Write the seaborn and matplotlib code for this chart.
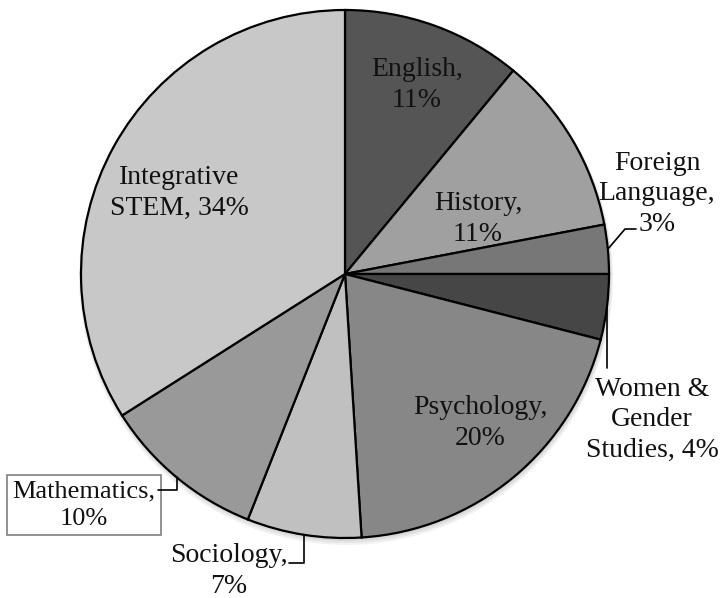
import numpy as np
import seaborn as sns
import matplotlib.pyplot as plt
from matplotlib.patches import Circle

# data
departments = ['English', 'History', 'Foreign Language', 'Women & Gender Studies',
               'Psychology', 'Sociology', 'Mathematics', 'Integrative STEM']
shares = [11, 11, 3, 4, 20, 7, 10, 34]
colors = ['#555555', '#a0a0a0', '#777777', '#464646', '#878787', '#c0c0c0', '#999999', '#c8c8c8']

sns.set_style('white')
plt.rcParams['font.family'] = ['Liberation Serif', 'DejaVu Serif']

W, H = 720, 598
fig = plt.figure(figsize=(W / 100, H / 100), dpi=100)
ax = fig.add_axes([0, 0, 1, 1])

cx, cy, R = 345, H - 274, 264

# soft shadow under the pie
for i in range(3):
    ax.add_patch(Circle((cx + 1, cy - 2 - i), R + 1 + i, color='black', alpha=0.05, lw=0, zorder=0))

wedges, _ = ax.pie(shares, colors=colors, startangle=90, counterclock=False,
                   center=(cx, cy), radius=R,
                   wedgeprops=dict(edgecolor='black', linewidth=1.6))

ax.set_xlim(0, W)
ax.set_ylim(0, H)
ax.set_aspect('equal')
ax.axis('off')

fs = 20
txt = dict(ha='center', va='center', fontsize=fs, linespacing=1.3, color='#111111')


def label(i, pct, wrap=None):
    name = wrap if wrap else departments[i]
    return f'{name}, {pct}%' if wrap else f'{name},\n{pct}%'


# inside labels
ax.text(417, H - 85, label(0, shares[0]), **txt)
ax.text(478, H - 219, label(1, shares[1]), **txt)
ax.text(480, H - 423, label(4, shares[4]), **txt)
ax.text(179, H - 193, label(7, shares[7], 'Integrative\nSTEM'), **txt)


def edge_point(i):
    w = wedges[i]
    mid = np.deg2rad((w.theta1 + w.theta2) / 2)
    return cx + R * np.cos(mid), cy + R * np.sin(mid)


lk = dict(color='black', lw=1.2, zorder=5)

# Foreign Language
x0, y0 = edge_point(2)
ax.plot([x0, 625, 636], [y0, H - 229, H - 229], **lk)
ax.text(657, H - 194, f'Foreign\nLanguage,\n{shares[2]}%', **txt)

# Women & Gender Studies
x0, y0 = edge_point(3)
ax.plot([x0, x0], [y0, H - 368], **lk)
ax.text(652, H - 420, label(3, shares[3], 'Women &\nGender\nStudies'), **txt)

# Sociology
x0, y0 = edge_point(5)
ax.plot([x0, x0, 289], [y0, H - 563, H - 563], **lk)
ax.text(229, H - 571, label(5, shares[5]), **txt)

# Mathematics (boxed)
x0, y0 = edge_point(6)
ax.plot([x0, x0, 158], [y0, H - 490, H - 490], **lk)
math_txt = dict(txt, fontsize=19)
ax.text(84, H - 505, label(6, shares[6]),
        bbox=dict(boxstyle='square,pad=0.2', fc='white', ec='#7f7f7f', lw=1.2), **math_txt)

fig.savefig('out.png', dpi=100)
